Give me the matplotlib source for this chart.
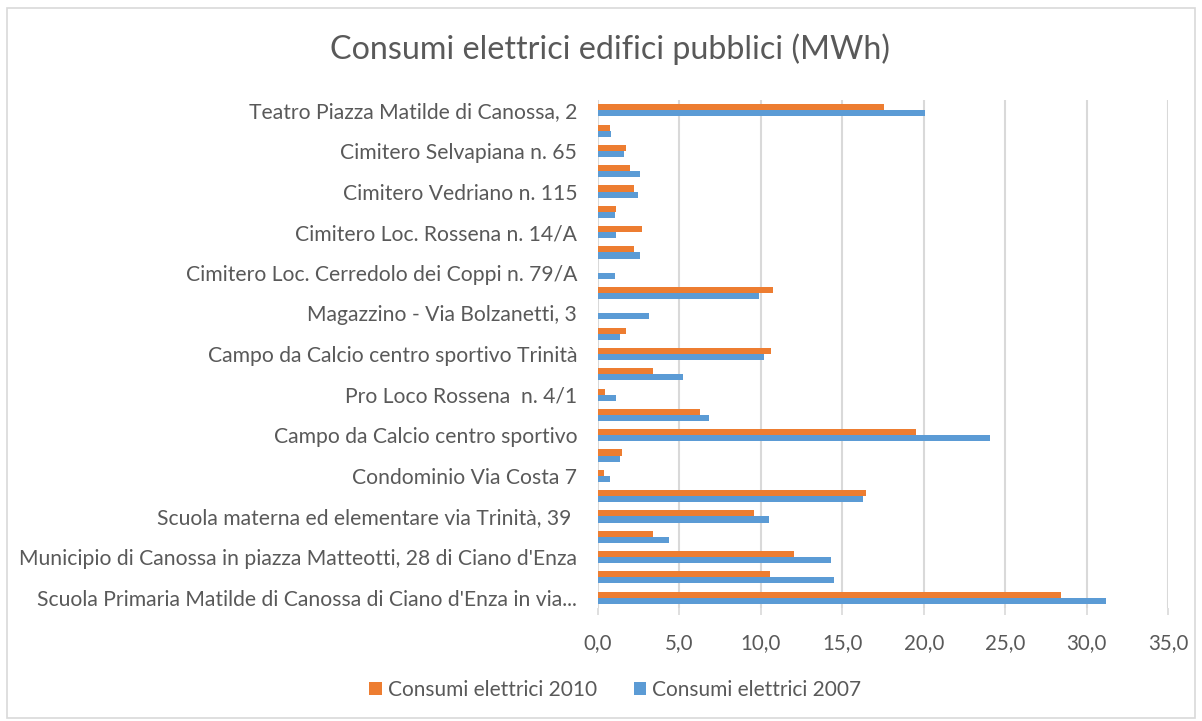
import numpy as np
import matplotlib
matplotlib.use("Agg")
import matplotlib.pyplot as plt
from matplotlib.patches import Rectangle
from matplotlib.ticker import FuncFormatter

plt.rcParams['font.family'] = ['Lato', 'DejaVu Sans']

# categories from bottom to top (every other one is unlabelled in the original)
categories = [
    "Scuola Primaria Matilde di Canossa di Ciano d'Enza in via...", "",
    "Municipio di Canossa in piazza Matteotti, 28 di Ciano d'Enza", "",
    "Scuola materna ed elementare via Trinità, 39 ", "",
    "Condominio Via Costa 7", "",
    "Campo da Calcio centro sportivo", "",
    "Pro Loco Rossena  n. 4/1", "",
    "Campo da Calcio centro sportivo Trinità", "",
    "Magazzino - Via Bolzanetti, 3", "",
    "Cimitero Loc. Cerredolo dei Coppi n. 79/A", "",
    "Cimitero Loc. Rossena n. 14/A", "",
    "Cimitero Vedriano n. 115", "",
    "Cimitero Selvapiana n. 65", "",
    "Teatro Piazza Matilde di Canossa, 2",
]
cons_2010 = [28.45, 10.58, 12.03, 3.38, 9.55, 16.46, 0.39, 1.50, 19.55, 6.27,
             0.43, 3.38, 10.64, 1.74, 0.0, 10.76, 0.0, 2.20, 2.70, 1.10,
             2.20, 1.95, 1.70, 0.74, 17.57]
cons_2007 = [31.20, 14.50, 14.30, 4.33, 10.50, 16.30, 0.76, 1.33, 24.05, 6.83,
             1.09, 5.25, 10.19, 1.37, 3.12, 9.88, 1.05, 2.56, 1.13, 1.05,
             2.44, 2.56, 1.58, 0.82, 20.05]

orange = '#ED7D31'
blue = '#5B9BD5'
grey_txt = '#595959'

fig = plt.figure(figsize=(12.02, 7.21), dpi=100)
ax = fig.add_axes([0.4975, 0.157, 0.4742, 0.704])

y = np.arange(len(categories))
h = 0.3
ax.barh(y + h / 2, cons_2010, height=h, color=orange, label='Consumi elettrici 2010', zorder=3)
ax.barh(y - h / 2, cons_2007, height=h, color=blue, label='Consumi elettrici 2007', zorder=3)

ax.set_xlim(0, 35)
ax.set_ylim(-0.5, len(categories) - 0.5)
ax.set_xticks(np.arange(0, 36, 5))
ax.xaxis.set_major_formatter(FuncFormatter(lambda v, p: f"{v:.1f}".replace('.', ',')))
ax.set_yticks(y)
ax.set_yticklabels(categories)
ax.grid(axis='x', color='#d9d9d9', linewidth=1.5, zorder=0)
for s in ax.spines.values():
    s.set_visible(False)
ax.tick_params(axis='y', length=0, pad=15, labelsize=15.2, labelcolor=grey_txt)
ax.tick_params(axis='x', length=5, color='#d9d9d9', width=1.2, pad=13,
               labelsize=14.8, labelcolor=grey_txt)

fig.text(0.5075, 0.932, 'Consumi elettrici edifici pubblici (MWh)', ha='center', va='center',
         fontsize=23.2, color=grey_txt)

handles, labels = ax.get_legend_handles_labels()
fig.legend(handles, labels, loc='center', bbox_to_anchor=(0.512, 0.043), ncol=2,
           frameon=False, fontsize=15, labelcolor=grey_txt, handlelength=0.6,
           handleheight=0.6, handletextpad=0.3, columnspacing=1.75)

fig.patches.append(Rectangle((0.006, 0.004), 0.988, 0.985, transform=fig.transFigure,
                             fill=False, edgecolor='#d9d9d9', linewidth=1.2))

fig.savefig('out.png', dpi=100)
